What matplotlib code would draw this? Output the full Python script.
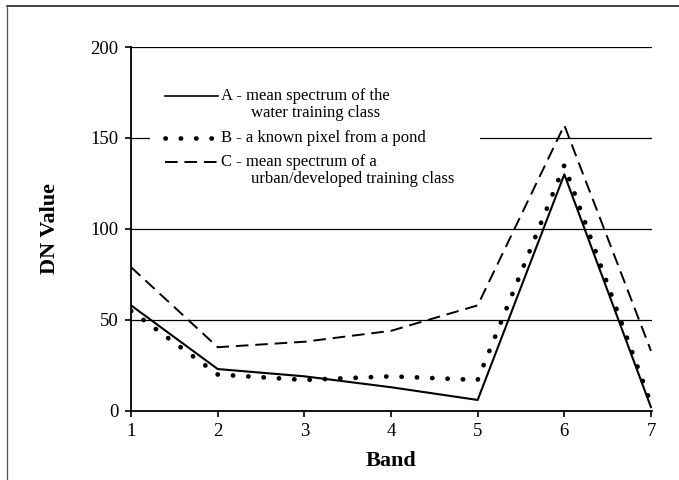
"""Spectral profiles of three training classes, DN value per band"""
import matplotlib.pyplot as plt
from matplotlib.lines import Line2D
from matplotlib.patches import Rectangle

bands = [1, 2, 3, 4, 5, 6, 7]
water_mean = [58, 23, 19, 13, 6, 130, 2]
pond_pixel = [55, 20, 17, 19, 17, 135, 4]
urban_mean = [79, 35, 38, 44, 58, 157, 33]
grid_levels = [50, 100, 150, 200]
y_ticks = [0, 50, 100, 150, 200]

plt.rcParams['font.family'] = ['Liberation Serif', 'DejaVu Serif']


def plot():
    fig = plt.figure(figsize=(6.79, 4.8), dpi=100)
    ax = fig.add_axes([0.193, 0.144, 0.767, 0.758])

    # outer frame of the scanned page (top and left edges only)
    fig.add_artist(Line2D([0.010, 1.0], [0.987, 0.987], color='#222222',
                          lw=1.2, transform=fig.transFigure))
    fig.add_artist(Line2D([0.010, 0.010], [0.0, 0.987], color='#555555',
                          lw=0.9, transform=fig.transFigure))

    for g in grid_levels:
        ax.axhline(g, color='black', lw=0.9, zorder=1)

    ax.plot(bands, water_mean, color='black', lw=1.5, zorder=3)
    ax.plot(bands, pond_pixel, color='black', lw=3.4,
            linestyle=(0, (0.05, 3.2)), dash_capstyle='round', zorder=3)
    ax.plot(bands, urban_mean, color='black', lw=1.4,
            linestyle=(0, (6.5, 3.5)), zorder=3)

    # hand-made legend on a white patch that hides the 150 line
    ax.add_patch(Rectangle((0.036, 0.60), 0.634, 0.30, transform=ax.transAxes,
                           facecolor='white', edgecolor='none', zorder=2))
    hx = [0.065, 0.167]
    ya, yb, yc = 0.865, 0.750, 0.684
    ax.add_line(Line2D(hx, [ya, ya], color='black', lw=1.2,
                       transform=ax.transAxes, zorder=4))
    ax.add_line(Line2D(hx, [yb, yb], color='black', lw=3.4,
                       linestyle=(0, (0.05, 3.2)), dash_capstyle='round',
                       transform=ax.transAxes, zorder=4))
    ax.add_line(Line2D(hx, [yc, yc], color='black', lw=1.4,
                       linestyle=(0, (6.5, 3.5)),
                       transform=ax.transAxes, zorder=4))
    tkw = dict(transform=ax.transAxes, fontsize=12, va='center', zorder=4)
    ax.text(0.173, ya, 'A - mean spectrum of the', **tkw)
    ax.text(0.230, ya - 0.047, 'water training class', **tkw)
    ax.text(0.173, yb, 'B - a known pixel from a pond', **tkw)
    ax.text(0.173, yc, 'C - mean spectrum of a', **tkw)
    ax.text(0.230, yc - 0.047, 'urban/developed training class', **tkw)

    ax.set_xlim(1, 7.01)
    ax.set_ylim(0, 200)
    ax.set_xticks(bands)
    ax.set_yticks(y_ticks)
    ax.tick_params(direction='out', length=4, width=1.2, labelsize=13.5,
                   colors='black', pad=5)
    for side in ['top', 'right']:
        ax.spines[side].set_visible(False)
    for side in ['left', 'bottom']:
        ax.spines[side].set_linewidth(1.3)

    ax.set_xlabel('Band', fontsize=16, fontweight='bold', labelpad=8)
    ax.set_ylabel('DN Value', fontsize=16, fontweight='bold', labelpad=22)

    plt.savefig('out.png', dpi=100)
    plt.close()


if __name__ == "__main__":
    plot()
